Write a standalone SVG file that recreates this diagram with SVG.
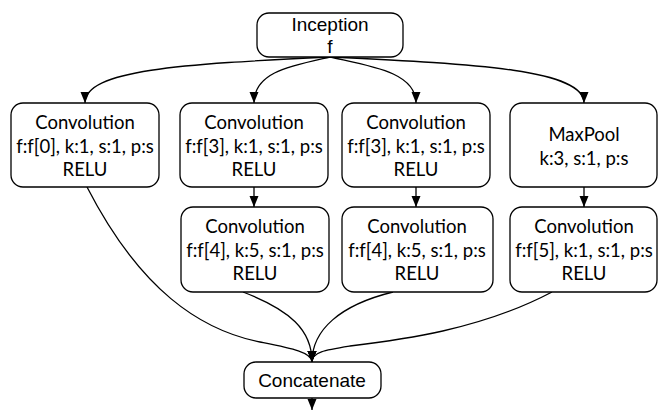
<svg xmlns="http://www.w3.org/2000/svg" width="659" height="410" viewBox="0 0 659 410">
<style>
.box{fill:#fff;stroke:#000;stroke-width:1.3}
.a{font-family:"Liberation Sans",Arial,sans-serif;font-size:19px;text-anchor:middle;fill:#000}
.c{font-family:Lato,"Liberation Sans",sans-serif;font-size:18.5px;text-anchor:middle;fill:#000}
.e{fill:none;stroke:#000;stroke-width:1.3}
</style>
<defs>
<marker id="ar" markerUnits="userSpaceOnUse" markerWidth="11" markerHeight="11" viewBox="0 0 11 11" refX="11" refY="5.5" orient="auto">
<path d="M0,1 L11,5.5 L0,10 Z" fill="#000"/>
</marker>
</defs>
<g id="edges">
<path class="e" marker-end="url(#ar)" d="M330,57 C180,64 85,70 85,103"/>
<path class="e" marker-end="url(#ar)" d="M330,57 C290,66 254,72 254,103"/>
<path class="e" marker-end="url(#ar)" d="M330,57 C370,66 416,72 416,103"/>
<path class="e" marker-end="url(#ar)" d="M330,57 C480,64 584,70 584,103"/>
<path class="e" marker-end="url(#ar)" d="M254,187 L254,207"/>
<path class="e" marker-end="url(#ar)" d="M416,187 L416,207"/>
<path class="e" marker-end="url(#ar)" d="M584,187 L584,207"/>
<path class="e" marker-end="url(#ar)" d="M87,187 C140,290 200,330 260,342 C290,348 312,352 312,362"/>
<path class="e" marker-end="url(#ar)" d="M243,292 C290,310 312,330 312,362"/>
<path class="e" marker-end="url(#ar)" d="M393,292 C340,305 312,330 312,362"/>
<path class="e" marker-end="url(#ar)" d="M552,292 C480,330 400,340 350,346 C325,350 312,352 312,362"/>
<path class="e" marker-end="url(#ar)" d="M312,398 L312,410"/>
</g>
<g id="inception">
<rect class="box" x="257" y="13" width="146" height="44" rx="12"/>
<text class="a" x="330" y="31">Inception</text>
<text class="a" x="330" y="53">f</text>
</g>
<g id="conv1">
<rect class="box" x="11" y="103" width="148" height="84" rx="12"/>
<text class="c" x="85" y="129">Convolution</text>
<text class="c" x="85" y="153">f:f[0], k:1, s:1, p:s</text>
<text class="c" x="85" y="176">RELU</text>
</g>
<g id="conv2">
<rect class="box" x="180" y="103" width="148" height="84" rx="12"/>
<text class="c" x="254" y="129">Convolution</text>
<text class="c" x="254" y="153">f:f[3], k:1, s:1, p:s</text>
<text class="c" x="254" y="176">RELU</text>
</g>
<g id="conv3">
<rect class="box" x="342" y="103" width="148" height="84" rx="12"/>
<text class="c" x="416" y="129">Convolution</text>
<text class="c" x="416" y="153">f:f[3], k:1, s:1, p:s</text>
<text class="c" x="416" y="176">RELU</text>
</g>
<g id="maxpool">
<rect class="box" x="510" y="103" width="147" height="84" rx="12"/>
<text class="c" x="584" y="141">MaxPool</text>
<text class="c" x="584" y="165">k:3, s:1, p:s</text>
</g>
<g id="conv4">
<rect class="box" x="181" y="207" width="148" height="85" rx="12"/>
<text class="c" x="255" y="233">Convolution</text>
<text class="c" x="255" y="257">f:f[4], k:5, s:1, p:s</text>
<text class="c" x="255" y="280">RELU</text>
</g>
<g id="conv5">
<rect class="box" x="342" y="207" width="151" height="85" rx="12"/>
<text class="c" x="417" y="233">Convolution</text>
<text class="c" x="417" y="257">f:f[4], k:5, s:1, p:s</text>
<text class="c" x="417" y="280">RELU</text>
</g>
<g id="conv6">
<rect class="box" x="510" y="207" width="147" height="85" rx="12"/>
<text class="c" x="584" y="233">Convolution</text>
<text class="c" x="584" y="257">f:f[5], k:1, s:1, p:s</text>
<text class="c" x="584" y="280">RELU</text>
</g>
<g id="concat">
<rect class="box" x="244" y="362" width="137" height="36" rx="12"/>
<text class="a" x="312" y="387">Concatenate</text>
</g>
</svg>
